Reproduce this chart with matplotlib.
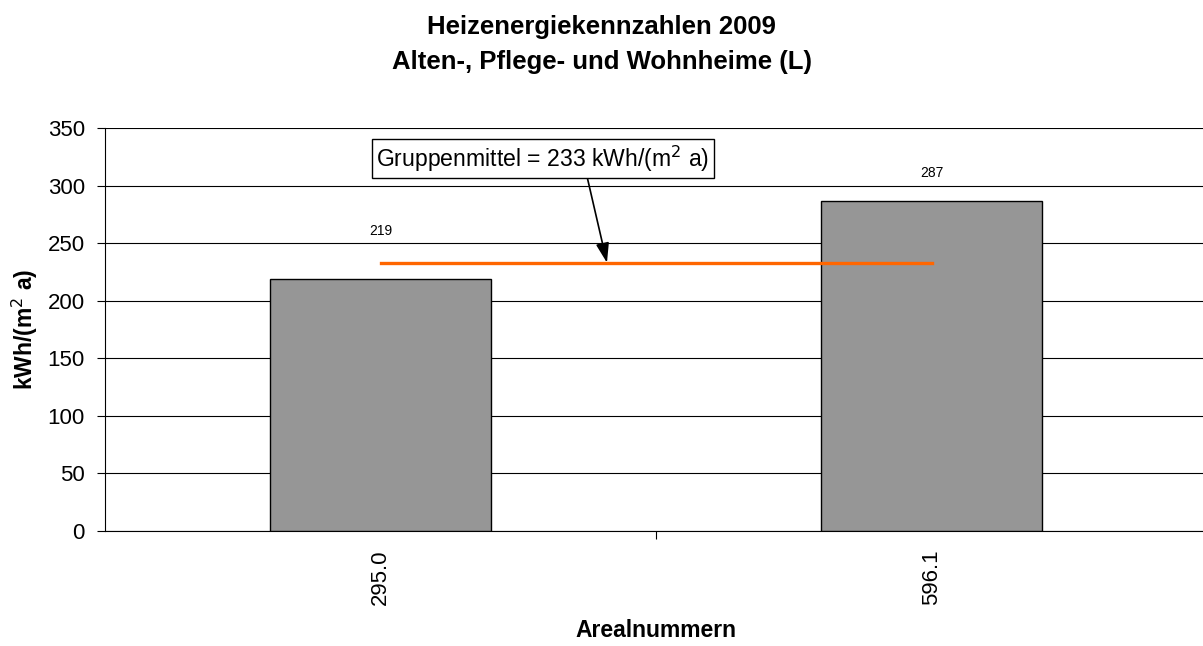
import matplotlib.pyplot as plt
import numpy as np

plt.rcParams['font.family'] = ['Liberation Sans', 'DejaVu Sans']

areale = ["295.0", "596.1"]
werte = [219, 287]
label_off = [41, 21]  # px above bar top, as in the original
mittel = 233

W, H = 1203, 646
fig = plt.figure(figsize=(W / 100, H / 100), dpi=100)
ax = fig.add_axes([105/W, 1 - 531/H, 1102/W, 403/H])

x = np.arange(len(areale))
ax.bar(x, werte, width=0.4, color='#969696', edgecolor='black', linewidth=1, zorder=3)
for xi, v, off in zip(x, werte, label_off):
    ax.annotate(str(v), (xi, v), xytext=(0, off * 0.72), textcoords='offset points',
                ha='center', va='bottom', fontsize=10)

ax.plot([x[0], x[-1]], [mittel, mittel], color='#ff6600', linewidth=2.4, zorder=4)
ax.annotate("Gruppenmittel = %d kWh/(m$^2$ a)" % mittel, xy=(0.411, mittel), xytext=(0.295, 323.5),
            ha='center', va='center', fontsize=16.6,
            bbox=dict(boxstyle='square,pad=0.2', fc='white', ec='black', lw=1),
            arrowprops=dict(arrowstyle='-|>,head_length=0.6,head_width=0.2', color='black', lw=1.2,
                            mutation_scale=20, relpos=(0.63, 0), shrinkA=0, shrinkB=0),
            zorder=5)

ax.set_xlim(-0.5, 1.5)
ax.set_ylim(0, 350)
ax.set_yticks(range(0, 351, 50))
ax.set_xticks([0.5])
ax.set_xticklabels([])
ax.set_xticks(x, minor=True)
ax.set_xticklabels(areale, minor=True, rotation=90)
ax.tick_params(axis='x', which='minor', length=0, pad=13.5, labelsize=16)
ax.tick_params(axis='x', which='major', length=6, direction='out', width=0.8)
ax.tick_params(axis='y', labelsize=16, length=6, direction='out', width=0.8, pad=8.5)
ax.grid(axis='y', color='black', linewidth=0.8, zorder=0)
ax.spines['top'].set_visible(False)
ax.spines['right'].set_visible(False)

ax.set_ylabel("kWh/(m$^2$ a)", fontsize=16.5, fontweight='bold')
ax.yaxis.set_label_coords((40 - 105) / 1102, 0.5)
ax.set_xlabel("Arealnummern", fontsize=16.5, fontweight='bold')
ax.xaxis.set_label_coords(0.5, (531 - 619) / 403)

fig.text(0.5, 1 - 34/H, "Heizenergiekennzahlen 2009", ha='center', va='baseline',
         fontsize=18.5, fontweight='bold')
fig.text(0.5, 1 - 68.5/H, "Alten-, Pflege- und Wohnheime (L)", ha='center', va='baseline',
         fontsize=18.5, fontweight='bold')

fig.savefig("out.png", dpi=100)
